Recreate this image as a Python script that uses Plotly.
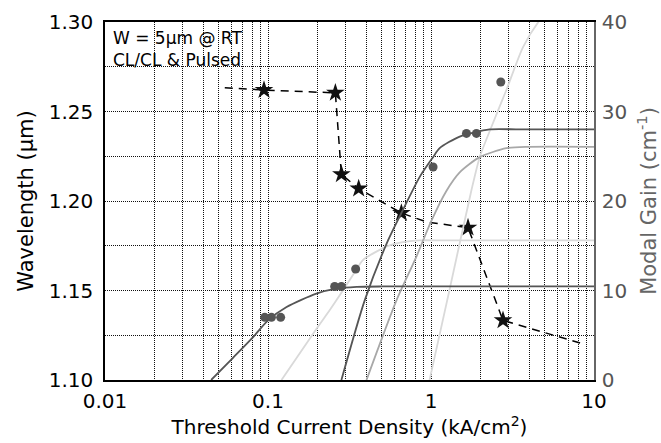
import plotly.graph_objects as go

# ---- data ----
# wavelength (stars, left axis)
star_J = [0.0945, 0.259, 0.282, 0.36, 0.658, 1.687, 2.765]
star_wl = [1.2620, 1.2604, 1.2149, 1.2069, 1.1933, 1.1851, 1.1333]
dash_J = [0.0543, 0.0945, 0.259, 0.282, 0.36, 0.658, 0.937, 1.687, 2.765, 8.56]
dash_wl = [1.2633, 1.2620, 1.2604, 1.2149, 1.2069, 1.1933, 1.1883, 1.1851, 1.1333, 1.1202]

# modal gain data (circles, right axis)
circ_J = [0.0955, 0.105, 0.1196, 0.2565, 0.282, 0.345, 1.03, 1.65, 1.9, 2.68]
circ_g = [7.0, 7.0, 7.0, 10.45, 10.45, 12.4, 23.8, 27.55, 27.55, 33.3]

# gain-current fits (right axis)
A_J = [0.0448, 0.061, 0.081, 0.1, 0.13, 0.198, 0.263, 0.35, 0.5, 10]
A_g = [0, 2.48, 4.79, 6.66, 8.15, 9.65, 10.2, 10.4, 10.45, 10.45]
B_J = [0.121, 0.198, 0.24, 0.288, 0.345, 0.382, 0.532, 0.67, 0.85, 1.2, 10]
B_g = [0, 5.7, 7.85, 10.0, 12.2, 13.4, 14.9, 15.4, 15.6, 15.6, 15.6]
C_J = [0.282, 0.392, 0.545, 0.658, 0.853, 1.03, 1.13, 1.5, 2.29, 3.5, 10]
C_g = [0, 8.9, 15.6, 18.66, 22.7, 24.9, 25.9, 27.2, 28.0, 28.0, 28.0]
D_J = [0.402, 0.614, 0.81, 1.0, 1.24, 1.5, 1.99, 2.9, 4.0, 10]
D_g = [0, 8.9, 13.7, 17.7, 21.1, 23.2, 24.9, 25.9, 26.05, 26.05]
E_J = [0.98, 1.3, 1.77, 1.99, 2.35, 2.9, 3.67, 4.64, 6.0]
E_g = [0, 10.1, 21.2, 24.9, 28.3, 32.4, 37.2, 40.2, 42.5]

x_ticks = [0.01, 0.1, 1, 10]
x_ticktext = ["0.01", "0.1", "1", "10"]
y_ticks = [1.10, 1.15, 1.20, 1.25, 1.30]
y2_ticks = [0, 10, 20, 30, 40]

FONT = "DejaVu Sans"
DARK = "#555555"
MID = "#a8a8a8"
LIGHT = "#d9d9d9"
GRID = "#111111"
GDASH = "1px,1px"

fig = go.Figure()

# star / dashed wavelength series
fig.add_trace(go.Scatter(x=dash_J, y=dash_wl, mode="lines",
                         line=dict(color="black", width=1.5, dash="8px,6px"),
                         yaxis="y", showlegend=False, hoverinfo="skip"))
fig.add_trace(go.Scatter(x=star_J, y=star_wl, mode="markers",
                         marker=dict(symbol="star", size=14, color="#111111",
                                     line=dict(width=0)),
                         yaxis="y", showlegend=False))

# gain curves
for xs, ys, col in [(B_J, B_g, LIGHT), (E_J, E_g, LIGHT), (D_J, D_g, MID),
                    (A_J, A_g, DARK), (C_J, C_g, DARK)]:
    fig.add_trace(go.Scatter(x=xs, y=ys, mode="lines",
                             line=dict(color=col, width=1.8, shape="spline", smoothing=0.7),
                             yaxis="y2", showlegend=False, hoverinfo="skip"))

fig.add_trace(go.Scatter(x=circ_J, y=circ_g, mode="markers",
                         marker=dict(symbol="circle", size=9, color=DARK, line=dict(width=0)),
                         yaxis="y2", showlegend=False))

minor_vals = [k * 10.0 ** e for e in (-2, -1, 0) for k in range(2, 10)]

fig.update_layout(
    width=661, height=443,
    margin=dict(l=105, r=67, t=22, b=63),
    paper_bgcolor="white", plot_bgcolor="white",
    font=dict(family=FONT, size=20, color="black"),
    xaxis=dict(type="log", range=[-2, 1], tickvals=x_ticks, ticktext=x_ticktext,
               showgrid=True, gridcolor=GRID, griddash=GDASH, gridwidth=1,
               minor=dict(tickvals=minor_vals, showgrid=True, gridcolor=GRID,
                          griddash=GDASH, gridwidth=1, ticks=""),
               showline=True, linecolor="black", linewidth=1.5, mirror=True,
               ticks="", ticklabelstandoff=2, tickfont=dict(size=20),
               title=dict(text="Threshold Current Density (kA/cm<sup>2</sup>)",
                          font=dict(size=20), standoff=6),
               automargin=False, zeroline=False),
    yaxis=dict(range=[1.10, 1.30], tickvals=y_ticks, tickformat=".2f",
               showgrid=True, gridcolor=GRID, griddash=GDASH, gridwidth=1,
               minor=dict(dtick=0.025, tick0=1.10, showgrid=True, gridcolor=GRID,
                          griddash=GDASH, gridwidth=1, ticks=""),
               showline=True, linecolor="black", linewidth=1.5,
               ticks="", ticklabelstandoff=6, tickfont=dict(size=20),
               title=dict(text="Wavelength (\u00b5m)", font=dict(size=21), standoff=9),
               automargin=False, zeroline=False),
    yaxis2=dict(range=[0, 40], tickvals=y2_ticks, overlaying="y", side="right",
                showgrid=False, showline=True, linecolor="#666666", linewidth=1.5,
                ticks="", ticklabelstandoff=2,
                tickfont=dict(size=20, color="#555555"),
                title=dict(text="Modal Gain (cm<sup>-1</sup>)",
                           font=dict(size=21, color="#666666"), standoff=24),
                automargin=False, zeroline=False),
    annotations=[
        dict(text="W = 5\u00b5m @ RT", xref="paper", yref="paper", x=0.012, y=0.99,
             xanchor="left", yanchor="top", showarrow=False,
             font=dict(size=17, color="black", family=FONT)),
        dict(text="CL/CL & Pulsed", xref="paper", yref="paper", x=0.012, y=0.926,
             xanchor="left", yanchor="top", showarrow=False,
             font=dict(size=17, color="black", family=FONT)),
    ],
)

fig.write_html("out.html")
